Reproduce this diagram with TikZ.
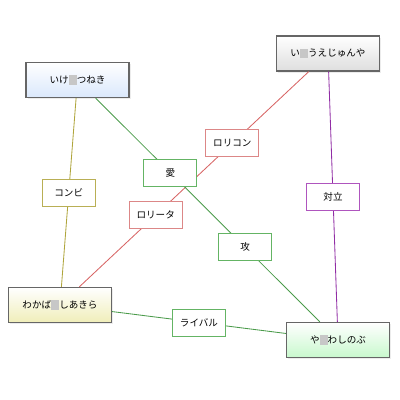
\documentclass[tikz,border=0pt]{standalone}
\usepackage{fontspec}
\setmainfont{Noto Sans CJK JP}
\usetikzlibrary{shadows}

\definecolor{lnolive}{RGB}{175,165,60}
\definecolor{lngreen}{RGB}{75,155,75}
\definecolor{lnred}{RGB}{215,100,100}
\definecolor{lnpurple}{RGB}{145,45,165}
\definecolor{bxolive}{RGB}{185,175,85}
\definecolor{bxgreen}{RGB}{100,180,100}
\definecolor{bxred}{RGB}{220,135,135}
\definecolor{bxpurple}{RGB}{175,85,190}

% blurred character in the names
\newcommand{\blurchar}{\textcolor{black!22}{\rule[-0.12em]{0.85em}{0.95em}}}

\begin{document}
\begin{tikzpicture}[x=0.025cm, y=-0.025cm,
  person/.style={draw=black!60, line width=0.9pt, minimum width=2.575cm, minimum height=0.875cm, inner sep=0pt, top color=white, font=\fontsize{6.8}{8}\selectfont, drop shadow={opacity=0.15, shadow xshift=0.04cm, shadow yshift=-0.04cm}},
  rel/.style={draw, fill=white, line width=0.6pt, minimum width=1.325cm, minimum height=0.675cm, inner sep=0pt, text=black, font=\fontsize{6.8}{8}\selectfont},
  link/.style={line width=0.6pt}]
  \useasboundingbox (0,0) rectangle (400,400);
  \node[person, bottom color={rgb,255:red,218;green,232;blue,252}] (ike) at (77.5,80) {いけ\blurchar つねき};
  \node[person, bottom color={rgb,255:red,222;green,222;blue,222}] (iue) at (328,53.5) {い\blurchar うえじゅんや};
  \node[person, bottom color={rgb,255:red,240;green,238;blue,185}] (waka) at (60,305) {わかば\blurchar しあきら};
  \node[person, bottom color={rgb,255:red,200;green,248;blue,205}] (yawa) at (338,340) {や\blurchar わしのぶ};
  \draw[link, lnolive] (ike) -- node[rel, draw=bxolive] {コンビ} (waka);
  \draw[link, lnred] (iue) -- node[rel, draw=bxred, pos=0.333] {ロリコン} node[rel, draw=bxred, pos=0.667] {ロリータ} (waka);
  \draw[link, lngreen] (ike) -- node[rel, draw=bxgreen, pos=0.333] {愛} node[rel, draw=bxgreen, pos=0.667] {攻} (yawa);
  \draw[link, lnpurple] (iue) -- node[rel, draw=bxpurple] {対立} (yawa);
  \draw[link, lngreen] (waka) -- node[rel, draw=bxgreen] {ライバル} (yawa);
\end{tikzpicture}
\end{document}
